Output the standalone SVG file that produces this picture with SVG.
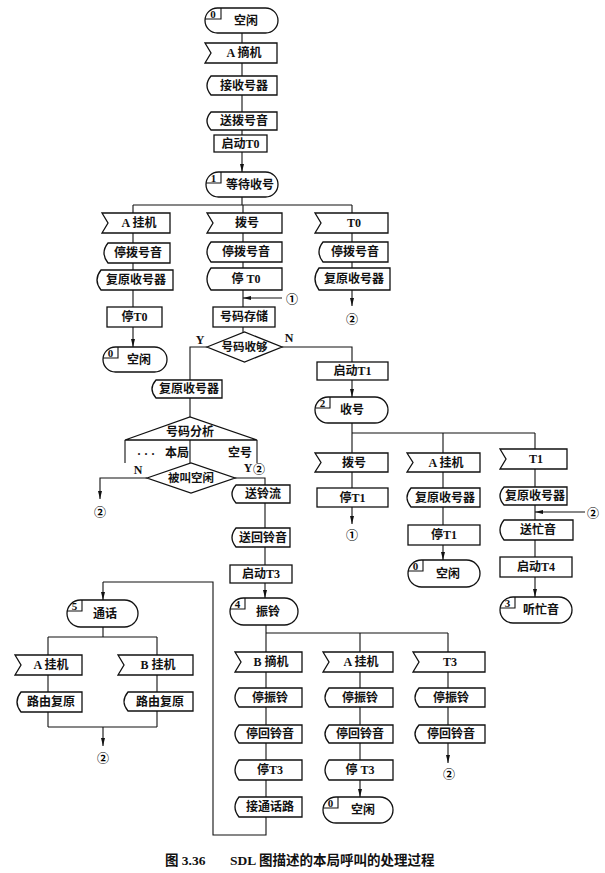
<svg xmlns="http://www.w3.org/2000/svg" width="605" height="873" viewBox="0 0 605 873">
<defs>
<style>
.s{fill:#fff;stroke:#111;stroke-width:1.3}
.c{fill:none;stroke:#111;stroke-width:1.1}
.l{fill:none;stroke:#111;stroke-width:1.1}
.t{font-family:"Liberation Serif","Noto Sans CJK SC",serif;font-size:12px;font-weight:bold;text-anchor:middle;dominant-baseline:central;fill:#111}
.n{font-family:"Liberation Serif",serif;font-size:11px;font-weight:bold;text-anchor:middle;dominant-baseline:central;fill:#111}
.m{font-family:"Noto Sans CJK SC","DejaVu Sans",sans-serif;font-size:12px;font-weight:bold;text-anchor:middle;dominant-baseline:central;fill:#000}
.cap{font-family:"Liberation Serif","Noto Sans CJK SC",serif;font-size:13.5px;font-weight:bold;fill:#111}
</style>
<marker id="ar" viewBox="0 0 8 4" refX="8" refY="2" markerWidth="8" markerHeight="4" markerUnits="userSpaceOnUse" orient="auto"><path d="M0,0 L8,2 L0,4 Z" fill="#111"/></marker>
</defs>
<rect width="605" height="873" fill="#fff"/>

<g id="connectors">
<path class="l" d="M242,33 V43 M242,63 V76 M242,95 V112 M242,130 V135"/>
<path class="l" d="M242,152 V172" marker-end="url(#ar)"/>
<path class="l" d="M242,197 V205 M133,205 H352"/>
<path class="l" d="M133,205 V213 M133,233 V243 M133,263 V270 M133,290 V307"/>
<path class="l" d="M133,327 V347" marker-end="url(#ar)"/>
<path class="l" d="M243,205 V213 M243,233 V242 M243,262 V268 M243,290 V307 M243,327 V332"/>
<path class="l" d="M282,298 H243" marker-end="url(#ar)"/>
<path class="l" d="M352,205 V213 M352,233 V242 M352,262 V268"/>
<path class="l" d="M352,290 V306" marker-end="url(#ar)"/>
<path class="l" d="M207,347 H190 V380 M282,347 H352 V362"/>
<path class="l" d="M190,398 V417 M190,440 V463 M125,440 V463 M257,440 V463"/>
<path class="l" d="M147,478 H100 V499" marker-end="url(#ar)"/>
<path class="l" d="M235,478 H265 V485 M265,503 V528 M265,547 V565"/>
<path class="l" d="M265,583 V598" marker-end="url(#ar)"/>
<path class="l" d="M266,625 V633 M266,633 H448"/>
<path class="l" d="M266,633 V652 M266,672 V688 M266,707 V725 M266,743 V760 M266,780 V797 M266,817 V835 H213 V582 H103"/>
<path class="l" d="M103,582 V600" marker-end="url(#ar)"/>
<path class="l" d="M360,633 V652 M360,672 V688 M360,707 V725 M360,743 V760"/>
<path class="l" d="M360,780 V797" marker-end="url(#ar)"/>
<path class="l" d="M448,633 V652 M448,672 V688 M448,707 V725"/>
<path class="l" d="M448,743 V763" marker-end="url(#ar)"/>
<path class="l" d="M352,380 V397" marker-end="url(#ar)"/>
<path class="l" d="M352,423 V433 H535 M352,433 V453 M352,472 V488"/>
<path class="l" d="M352,507 V524" marker-end="url(#ar)"/>
<path class="l" d="M443,433 V453 M443,472 V488 M443,507 V525"/>
<path class="l" d="M443,545 V560" marker-end="url(#ar)"/>
<path class="l" d="M535,433 V449 M535,469 V487 M535,505 V520 M535,540 V557"/>
<path class="l" d="M535,577 V597" marker-end="url(#ar)"/>
<path class="l" d="M585,512 H535" marker-end="url(#ar)"/>
<path class="l" d="M103,627 V637 M48,637 H157 M48,637 V655 M48,675 V692 M48,712 V727 M157,637 V655 M157,675 V692 M157,711 V727 M48,727 H157"/>
<path class="l" d="M103,727 V746" marker-end="url(#ar)"/>
</g>

<g id="s_idle0">
<path class="s" d="M217.5,8 H265.5 A12.5,12.5 0 0 1 265.5,33 H217.5 A12.5,12.5 0 0 1 217.5,8 Z"/>
<path class="c" d="M221,8 V19 H205.1"/>
<text class="n" x="213" y="14">0</text>
<text class="t" x="246" y="21">空闲</text>
</g>
<g id="i_a_offhook"><path class="s" d="M205,43 H277 V63 H205 L211,53 Z"/><text class="t" x="244" y="53">A 摘机</text></g>
<g id="o_recv"><path class="s" d="M211,76 H277 V95 H211 Q203,85.5 211,76 Z"/><text class="t" x="244" y="85.5">接收号器</text></g>
<g id="o_dialtone"><path class="s" d="M211,112 H277 V130 H211 Q203,121 211,112 Z"/><text class="t" x="244" y="121">送拨号音</text></g>
<g id="t_startT0"><rect class="s" x="214" y="135" width="53" height="17"/><text class="t" x="240.5" y="143.5">启动T0</text></g>
<g id="s_wait1">
<path class="s" d="M218.5,172 H265.5 A12.5,12.5 0 0 1 265.5,197 H218.5 A12.5,12.5 0 0 1 218.5,172 Z"/>
<path class="c" d="M221,172 V183 H206.1"/>
<text class="n" x="213.5" y="178">1</text>
<text class="t" x="250" y="185">等待收号</text>
</g>

<g id="i_a_onhook1"><path class="s" d="M102,213 H170 V233 H102 L108,223 Z"/><text class="t" x="139" y="223">A 挂机</text></g>
<g id="o_stopdt1"><path class="s" d="M108,243 H170 V263 H108 Q100,253 108,243 Z"/><text class="t" x="138" y="253">停拨号音</text></g>
<g id="o_reset1"><path class="s" d="M101,270 H173 V290 H101 Q93,280 101,270 Z"/><text class="t" x="136" y="280">复原收号器</text></g>
<g id="t_stopT0_1"><rect class="s" x="107" y="307" width="55" height="20"/><text class="t" x="134.5" y="317">停T0</text></g>
<g id="s_idle1">
<path class="s" d="M115.5,347 H154.5 A12.5,12.5 0 0 1 154.5,372 H115.5 A12.5,12.5 0 0 1 115.5,347 Z"/>
<path class="c" d="M118,347 V358 H103.1"/>
<text class="n" x="110.5" y="353">0</text>
<text class="t" x="139" y="360">空闲</text>
</g>

<g id="i_dial1"><path class="s" d="M207,213 H282 V233 H207 L213,223 Z"/><text class="t" x="247" y="223">拨号</text></g>
<g id="o_stopdt2"><path class="s" d="M211,242 H282 V262 H211 Q203,252 211,242 Z"/><text class="t" x="246" y="252">停拨号音</text></g>
<g id="o_stopT0_2"><path class="s" d="M211,268 H282 V290 H211 Q203,279 211,268 Z"/><text class="t" x="246" y="279">停 T0</text></g>
<text class="m" x="292" y="298">①</text>
<g id="t_store"><rect class="s" x="213" y="307" width="62" height="20"/><text class="t" x="244" y="317">号码存储</text></g>
<g id="d_enough"><polygon class="s" points="207,347 244.5,332 282,347 244.5,362"/><text class="t" x="244.5" y="347" style="font-size:11.5px">号码收够</text></g>
<text class="t" x="200" y="340">Y</text>
<text class="t" x="289" y="338">N</text>

<g id="i_T0"><path class="s" d="M315,213 H388 V233 H315 L321,223 Z"/><text class="t" x="354" y="223">T0</text></g>
<g id="o_stopdt3"><path class="s" d="M323,242 H388 V262 H323 Q315,252 323,242 Z"/><text class="t" x="355" y="252">停拨号音</text></g>
<g id="o_reset3"><path class="s" d="M319,268 H390 V290 H319 Q311,279 319,268 Z"/><text class="t" x="354" y="279">复原收号器</text></g>
<text class="m" x="352" y="318">②</text>

<g id="o_resetY"><path class="s" d="M156,380 H222 V398 H156 Q148,389 156,380 Z"/><text class="t" x="189" y="389">复原收号器</text></g>
<g id="d_analysis"><polygon class="s" points="125,440 190,417 257,440"/><text class="t" x="190" y="432">号码分析</text></g>
<text class="t" x="146" y="454">· · ·</text>
<text class="t" x="177" y="453">本局</text>
<text class="t" x="240" y="453">空号</text>
<g id="d_free"><polygon class="s" points="147,478 191,463 235,478 191,493"/><text class="t" x="191" y="478" style="font-size:11.5px">被叫空闲</text></g>
<text class="t" x="138" y="470">N</text>
<text class="t" x="248" y="468">Y</text>
<text class="m" x="259" y="468">②</text>
<text class="m" x="100" y="511">②</text>

<g id="o_ringcur"><path class="s" d="M236,485 H290 V503 H236 Q228,494 236,485 Z"/><text class="t" x="263" y="494">送铃流</text></g>
<g id="o_ringback"><path class="s" d="M236,528 H290 V547 H236 Q228,537.5 236,528 Z"/><text class="t" x="263" y="537.5">送回铃音</text></g>
<g id="t_startT3"><rect class="s" x="230" y="565" width="62" height="18"/><text class="t" x="261" y="574">启动T3</text></g>
<g id="s_ring4">
<path class="s" d="M243.5,598 H284.5 A13.5,13.5 0 0 1 284.5,625 H243.5 A13.5,13.5 0 0 1 243.5,598 Z"/>
<path class="c" d="M245,598 V609 H230.2"/>
<text class="n" x="237.5" y="604">4</text>
<text class="t" x="268" y="612">振铃</text>
</g>

<g id="t_startT1"><rect class="s" x="317" y="362" width="71" height="18"/><text class="t" x="352.5" y="371">启动T1</text></g>
<g id="s_recv2">
<path class="s" d="M328,397 H375 A13,13 0 0 1 375,423 H328 A13,13 0 0 1 328,397 Z"/>
<path class="c" d="M330,397 V408 H315.2"/>
<text class="n" x="322.5" y="403">2</text>
<text class="t" x="352" y="410">收号</text>
</g>
<g id="i_dial2"><path class="s" d="M315,453 H388 V472 H315 L321,462.5 Z"/><text class="t" x="354" y="462.5">拨号</text></g>
<g id="t_stopT1a"><rect class="s" x="317" y="488" width="71" height="19"/><text class="t" x="352.5" y="497.5">停T1</text></g>
<text class="m" x="352" y="534">①</text>
<g id="i_a_onhook2"><path class="s" d="M407,453 H480 V472 H407 L413,462.5 Z"/><text class="t" x="446" y="462.5">A 挂机</text></g>
<g id="o_reset4"><path class="s" d="M411,488 H480 V507 H411 Q403,497.5 411,488 Z"/><text class="t" x="445" y="497.5">复原收号器</text></g>
<g id="t_stopT1b"><rect class="s" x="408" y="525" width="72" height="20"/><text class="t" x="444" y="535">停T1</text></g>
<g id="s_idle2">
<path class="s" d="M421.5,560 H466.5 A13.5,13.5 0 0 1 466.5,587 H421.5 A13.5,13.5 0 0 1 421.5,560 Z"/>
<path class="c" d="M423,560 V571 H408.2"/>
<text class="n" x="415.5" y="566">0</text>
<text class="t" x="448" y="574">空闲</text>
</g>
<g id="i_T1"><path class="s" d="M500,449 H567 V469 H500 L506,459 Z"/><text class="t" x="536" y="459">T1</text></g>
<g id="o_reset5"><path class="s" d="M504,487 H567 V505 H504 Q496,496 504,487 Z"/><text class="t" x="535" y="496">复原收号器</text></g>
<text class="m" x="593" y="512">②</text>
<g id="o_busy"><path class="s" d="M504,520 H573 V540 H504 Q496,530 504,520 Z"/><text class="t" x="538" y="530">送忙音</text></g>
<g id="t_startT4"><rect class="s" x="500" y="557" width="72" height="20"/><text class="t" x="536" y="567">启动T4</text></g>
<g id="s_busy3">
<path class="s" d="M513,597 H559 A13,13 0 0 1 559,623 H513 A13,13 0 0 1 513,597 Z"/>
<path class="c" d="M515,597 V608 H500.2"/>
<text class="n" x="507.5" y="603">3</text>
<text class="t" x="541" y="610">听忙音</text>
</g>

<g id="s_talk5">
<path class="s" d="M80.5,600 H124.5 A13.5,13.5 0 0 1 124.5,627 H80.5 A13.5,13.5 0 0 1 80.5,600 Z"/>
<path class="c" d="M82,600 V611 H67.2"/>
<text class="n" x="74.5" y="606">5</text>
<text class="t" x="105" y="614">通话</text>
</g>
<g id="i_a_onhook3"><path class="s" d="M15,655 H82 V675 H15 L21,665 Z"/><text class="t" x="51" y="665">A 挂机</text></g>
<g id="i_b_onhook"><path class="s" d="M118,655 H193 V675 H118 L124,665 Z"/><text class="t" x="158" y="665">B 挂机</text></g>
<g id="o_route1"><path class="s" d="M21,692 H82 V712 H21 Q13,702 21,692 Z"/><text class="t" x="51" y="702">路由复原</text></g>
<g id="o_route2"><path class="s" d="M128,692 H193 V711 H128 Q120,701.5 128,692 Z"/><text class="t" x="160" y="701.5">路由复原</text></g>
<text class="m" x="103" y="757">②</text>

<g id="i_b_offhook"><path class="s" d="M235,652 H302 V672 H235 L241,662 Z"/><text class="t" x="271" y="662">B 摘机</text></g>
<g id="o_stopring1"><path class="s" d="M239,688 H302 V707 H239 Q231,697.5 239,688 Z"/><text class="t" x="270" y="697.5">停振铃</text></g>
<g id="o_stoprb1"><path class="s" d="M239,725 H302 V743 H239 Q231,734 239,725 Z"/><text class="t" x="270" y="734">停回铃音</text></g>
<g id="o_stopT3a"><path class="s" d="M239,760 H302 V780 H239 Q231,770 239,760 Z"/><text class="t" x="270" y="770">停T3</text></g>
<g id="o_connect"><path class="s" d="M239,797 H302 V817 H239 Q231,807 239,797 Z"/><text class="t" x="270" y="807">接通话路</text></g>

<g id="i_a_onhook4"><path class="s" d="M323,652 H393 V672 H323 L329,662 Z"/><text class="t" x="361" y="662">A 挂机</text></g>
<g id="o_stopring2"><path class="s" d="M329,688 H393 V707 H329 Q321,697.5 329,688 Z"/><text class="t" x="360" y="697.5">停振铃</text></g>
<g id="o_stoprb2"><path class="s" d="M329,725 H393 V743 H329 Q321,734 329,725 Z"/><text class="t" x="360" y="734">停回铃音</text></g>
<g id="o_stopT3b"><path class="s" d="M329,760 H393 V780 H329 Q321,770 329,760 Z"/><text class="t" x="360" y="770">停 T3</text></g>
<g id="s_idle3">
<path class="s" d="M336,797 H380 A13,13 0 0 1 380,823 H336 A13,13 0 0 1 336,797 Z"/>
<path class="c" d="M338,797 V808 H323.2"/>
<text class="n" x="330.5" y="803">0</text>
<text class="t" x="363" y="810">空闲</text>
</g>

<g id="i_T3"><path class="s" d="M413,652 H485 V672 H413 L419,662 Z"/><text class="t" x="450" y="662">T3</text></g>
<g id="o_stopring3"><path class="s" d="M419,688 H485 V707 H419 Q411,697.5 419,688 Z"/><text class="t" x="451" y="697.5">停振铃</text></g>
<g id="o_stoprb3"><path class="s" d="M419,725 H485 V743 H419 Q411,734 419,725 Z"/><text class="t" x="451" y="734">停回铃音</text></g>
<text class="m" x="449" y="773">②</text>

<text class="cap" x="165" y="865">图 3.36</text>
<text class="cap" x="230" y="865">SDL 图描述的本局呼叫的处理过程</text>
</svg>
